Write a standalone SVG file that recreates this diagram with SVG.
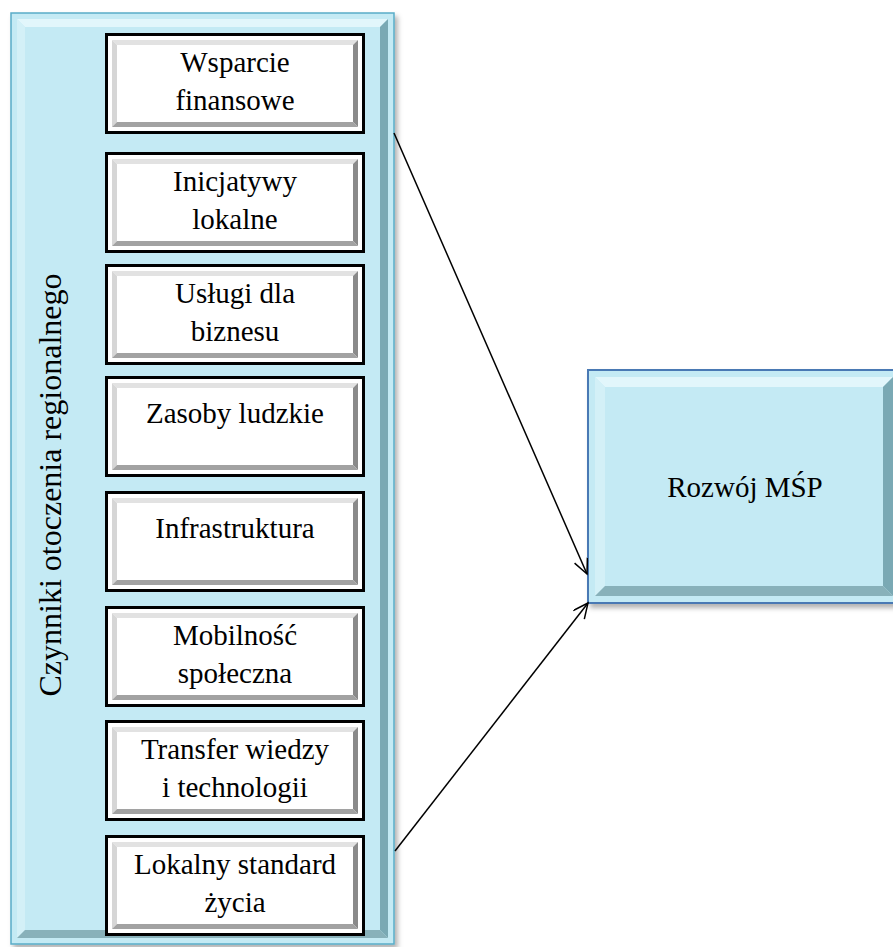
<svg xmlns="http://www.w3.org/2000/svg" xmlns:xlink="http://www.w3.org/1999/xlink" width="893" height="947" viewBox="0 0 893 947">
<defs>
<style>
.t{font-family:"Liberation Serif","Times New Roman",serif;font-size:29px;fill:#000;text-anchor:middle}
.vt{font-size:32px}
.conn{stroke:#000;stroke-width:1.5;fill:none}
.fill{fill:#c4eaf4}
.btop{fill:#e2f6fb}
.bleft{fill:#d3f0f7}
.bright{fill:#7aa9b4}
.bbot{fill:#88b1ba}
</style>
<marker id="ah" markerWidth="18" markerHeight="16" refX="16" refY="7" orient="auto" markerUnits="userSpaceOnUse">
<path d="M1,0 L16,7 L1,14" fill="none" stroke="#000" stroke-width="1.5"/>
</marker>
<filter id="sh" x="-10%" y="-10%" width="130%" height="130%">
<feDropShadow dx="3" dy="4" stdDeviation="2.5" flood-color="#000" flood-opacity="0.3"/>
</filter>
<g id="wbox">
<rect x="1.5" y="1.5" width="257" height="98" fill="#fff" stroke="#000" stroke-width="3"/>
<polygon points="7,7 253,7 248,12 12,12" fill="#e2e2e2"/>
<polygon points="7,7 12,12 12,89 7,94" fill="#d6d6d6"/>
<polygon points="253,7 253,94 248,89 248,12" fill="#8a8a8a"/>
<polygon points="7,94 253,94 248,89 12,89" fill="#a2a2a2"/>
</g>
</defs>
<rect width="893" height="947" fill="#fff"/>

<g id="container">
<rect x="11" y="13" width="383" height="931" class="fill" stroke="#58acc8" stroke-width="1.5" filter="url(#sh)"/>
<polygon class="btop" points="17,19 388,19 380,27 25,27"/>
<polygon class="bleft" points="17,19 25,27 25,930 17,938"/>
<polygon class="bright" points="388,19 388,938 380,930 380,27"/>
<polygon class="bbot" points="17,938 388,938 380,930 25,930"/>
<text class="t vt" transform="translate(61,485) rotate(-90)">Czynniki otoczenia regionalnego</text>
</g>

<g id="n1" transform="translate(105,33)"><use xlink:href="#wbox"/><text class="t" x="130" y="39">Wsparcie</text><text class="t" x="130" y="77">finansowe</text></g>
<g id="n2" transform="translate(105,152)"><use xlink:href="#wbox"/><text class="t" x="130" y="39">Inicjatywy</text><text class="t" x="130" y="77">lokalne</text></g>
<g id="n3" transform="translate(105,264)"><use xlink:href="#wbox"/><text class="t" x="130" y="39">Usługi dla</text><text class="t" x="130" y="77">biznesu</text></g>
<g id="n4" transform="translate(105,376)"><use xlink:href="#wbox"/><text class="t" x="130" y="47">Zasoby ludzkie</text></g>
<g id="n5" transform="translate(105,491)"><use xlink:href="#wbox"/><text class="t" x="130" y="47">Infrastruktura</text></g>
<g id="n6" transform="translate(105,606)"><use xlink:href="#wbox"/><text class="t" x="130" y="39">Mobilność</text><text class="t" x="130" y="77">społeczna</text></g>
<g id="n7" transform="translate(105,720)"><use xlink:href="#wbox"/><text class="t" x="130" y="39">Transfer wiedzy</text><text class="t" x="130" y="77">i technologii</text></g>
<g id="n8" transform="translate(105,835)"><use xlink:href="#wbox"/><text class="t" x="130" y="39">Lokalny standard</text><text class="t" x="130" y="77">życia</text></g>

<g id="rozwoj">
<rect x="588" y="370" width="312" height="233" class="fill" stroke="#4a79b4" stroke-width="2" filter="url(#sh)"/>
<polygon class="btop" points="595,377 893,377 883,387 605,387"/>
<polygon class="bleft" points="595,377 605,387 605,586 595,596"/>
<polygon class="bright" points="893,377 893,596 883,586 883,387"/>
<polygon class="bbot" points="595,596 893,596 883,586 605,586"/>
<text class="t" x="745" y="497">Rozwój MŚP</text>
</g>

<g id="connectors">
<line class="conn" x1="394" y1="133" x2="587" y2="574" marker-end="url(#ah)"/>
<line class="conn" x1="395" y1="851" x2="588" y2="603" marker-end="url(#ah)"/>
</g>
</svg>
